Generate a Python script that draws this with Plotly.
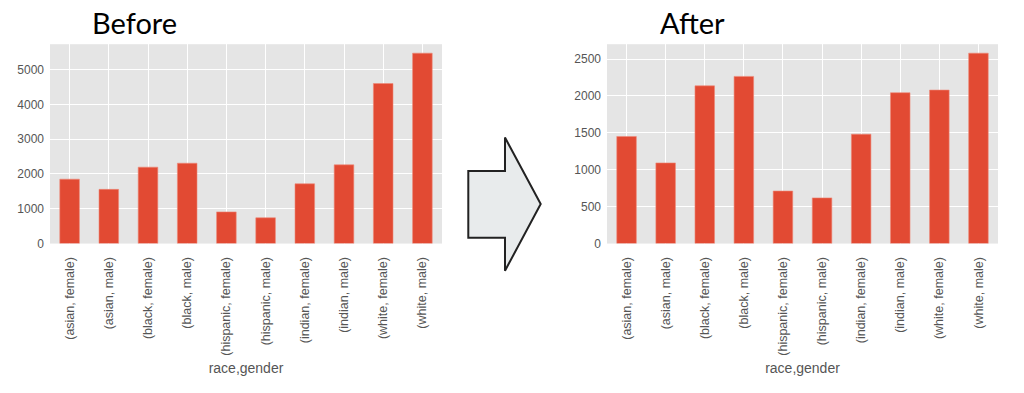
import plotly.graph_objects as go

categories = ["(asian, female)", "(asian, male)", "(black, female)", "(black, male)",
              "(hispanic, female)", "(hispanic, male)", "(indian, female)", "(indian, male)",
              "(white, female)", "(white, male)"]
before_values = [1850, 1557, 2195, 2308, 910, 741, 1717, 2261, 4597, 5469]
after_values = [1451, 1093, 2137, 2265, 712, 619, 1482, 2044, 2080, 2580]
before_ticks = [0, 1000, 2000, 3000, 4000, 5000]
after_ticks = [0, 500, 1000, 1500, 2000, 2500]

W, H = 1024, 393
def px(x): return x / W
def py(y): return 1 - y / H

BAR = "#E24A33"
BG = "#E5E5E5"
TXT = "#555555"

fig = go.Figure()
fig.add_trace(go.Bar(x=categories, y=before_values, marker=dict(color=BAR, line=dict(color="#EE8877", width=0.6)),
                     width=0.5, xaxis="x", yaxis="y", showlegend=False))
fig.add_trace(go.Bar(x=categories, y=after_values, marker=dict(color=BAR, line=dict(color="#EE8877", width=0.6)),
                     width=0.5, xaxis="x2", yaxis="y2", showlegend=False))

xtickfont = dict(family="Liberation Sans, Arial", size=12.5, color=TXT)
ytickfont = dict(family="Liberation Sans, Arial", size=12, color=TXT)
xcommon = dict(type="category", tickangle=-90, showgrid=True, gridcolor="white", gridwidth=1,
               tickfont=xtickfont, ticks="", zeroline=False, showline=False, ticklabelstandoff=10,
               title=dict(text="race,gender", font=dict(family="Liberation Sans, Arial", size=14, color=TXT), standoff=8),
               range=[-0.5, len(categories) - 0.5])
ycommon = dict(showgrid=True, gridcolor="white", gridwidth=1, tickfont=ytickfont, ticks="",
               zeroline=False, showline=False, ticklabelstandoff=5)

fig.update_layout(
    width=W, height=H, margin=dict(l=0, r=0, t=0, b=0),
    paper_bgcolor="white", plot_bgcolor=BG,
    xaxis=dict(domain=[px(50), px(442)], anchor="y", **xcommon),
    yaxis=dict(domain=[py(248), py(45)], anchor="x", range=[0, max(before_values) * 1.047],
               tickvals=before_ticks, **ycommon),
    xaxis2=dict(domain=[px(607), px(998)], anchor="y2", **xcommon),
    yaxis2=dict(domain=[py(248), py(45)], anchor="x2", range=[0, max(after_values) * 1.047],
                tickvals=after_ticks, **ycommon),
    bargap=0.5,
)

fig.add_annotation(text="Before", x=px(134), y=py(23), xref="paper", yref="paper",
                   showarrow=False, font=dict(family="Lato", size=29, color="black"),
                   xanchor="center", yanchor="middle")
fig.add_annotation(text="After", x=px(692), y=py(23), xref="paper", yref="paper",
                   showarrow=False, font=dict(family="Lato", size=29, color="black"),
                   xanchor="center", yanchor="middle")

pts = [(468.3, 174), (505, 174), (505, 140), (540.7, 207.7), (505, 275.7), (505, 242), (468.3, 242)]
path = "M " + " L ".join(f"{px(x):.5f},{py(y):.5f}" for x, y in pts) + " Z"
fig.add_shape(type="path", path=path, xref="paper", yref="paper",
              fillcolor="#E8EBEC", line=dict(color="#222222", width=2))

fig.write_html("out.html", config={"displayModeBar": False},
               post_script="document.body.style.margin='0';document.body.style.overflow='hidden';")
